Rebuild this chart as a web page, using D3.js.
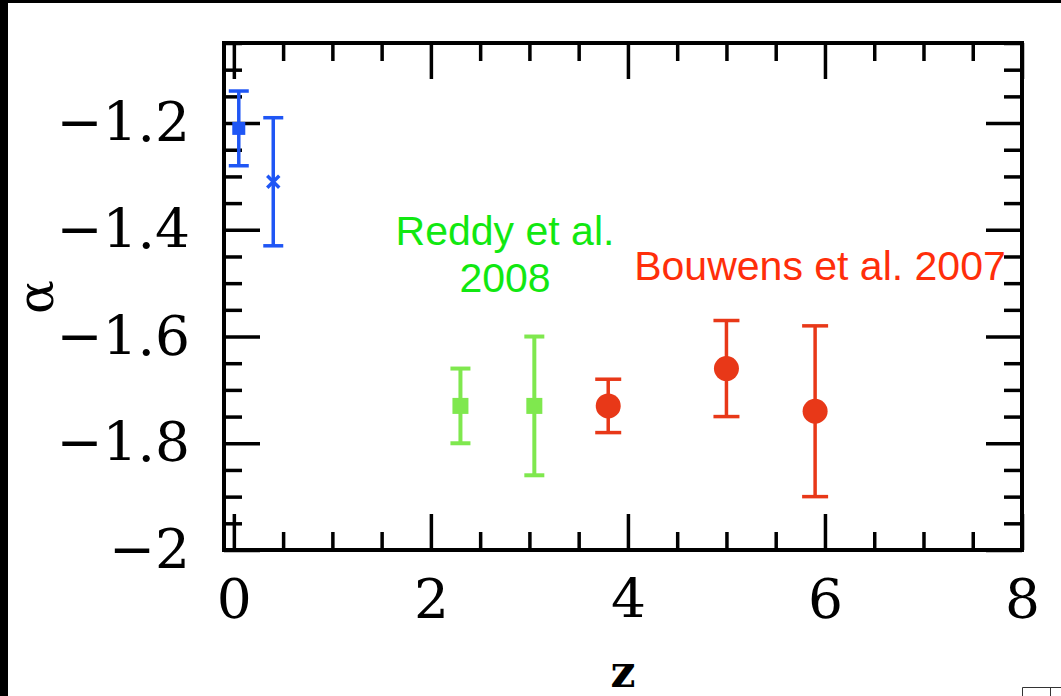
<!DOCTYPE html>
<html>
<head>
<meta charset="utf-8">
<script src="https://cdn.jsdelivr.net/npm/d3@7"></script>
<style>
  html, body { margin: 0; padding: 0; background: #fff; }
  svg { display: block; }
</style>
</head>
<body>
<svg id="chart" width="1061" height="696"></svg>
<script>
// Faint-end slope alpha of the UV luminosity function versus redshift z
const blueZ    = [0.05, 0.40];
const blueA    = [-1.21, -1.31];
const blueHi   = [-1.14, -1.19];
const blueLo   = [-1.28, -1.43];
const blueMark = ["square", "cross"];

const reddyZ   = [2.3, 3.05];
const reddyA   = [-1.73, -1.73];
const reddyHi  = [-1.66, -1.60];
const reddyLo  = [-1.80, -1.86];

const bouwZ    = [3.8, 5.0, 5.9];
const bouwA    = [-1.73, -1.66, -1.74];
const bouwHi   = [-1.68, -1.57, -1.58];
const bouwLo   = [-1.78, -1.75, -1.90];

const xMajor = [0, 2, 4, 6, 8];
const xTickLabels = ["0", "2", "4", "6", "8"];
const yMajor = [-2, -1.8, -1.6, -1.4, -1.2];
const yTickLabels = ["\u22122", "\u22121.8", "\u22121.6", "\u22121.4", "\u22121.2"];

const svg = d3.select("#chart");

const L = 224, R = 1022, T = 43, B = 550;
const x = d3.scaleLinear().domain([-0.1, 8]).range([L, R]);
const y = d3.scaleLinear().domain([-2, -1.05]).range([B, T]);

// dark page edges
svg.append("rect").attr("x", 0).attr("y", 0).attr("width", 1061).attr("height", 3).attr("fill", "#000");
svg.append("rect").attr("x", 0).attr("y", 0).attr("width", 8).attr("height", 696).attr("fill", "#000");

const xMinor = d3.range(0, 8.001, 0.5).filter(v => Math.abs(v % 2) > 1e-6);
const yMinor = d3.range(-2, -1.049, 0.05).map(v => +v.toFixed(2)).filter(v => !yMajor.some(m => Math.abs(m - v) < 1e-6));

const tickW = 3.5, majorLen = 36, minorLen = 18;
const serif = "'DejaVu Serif', 'Liberation Serif', serif";

function styleAxis(g) {
  g.select(".domain").remove();
  g.selectAll(".tick line").attr("stroke", "#000").attr("stroke-width", tickW);
}

// bottom axis with labels
const gxB = svg.append("g").attr("transform", `translate(0,${B})`)
  .call(d3.axisBottom(x).tickValues(xMajor).tickSizeInner(-majorLen).tickSizeOuter(0)
    .tickPadding(29).tickFormat((d, i) => xTickLabels[i]));
styleAxis(gxB);
gxB.selectAll("text").attr("font-family", serif).attr("font-size", 55).attr("fill", "#000");
svg.append("g").attr("transform", `translate(0,${B})`)
  .call(d3.axisBottom(x).tickValues(xMinor).tickSizeInner(-minorLen).tickSizeOuter(0).tickFormat(""))
  .call(styleAxis);

// top axis (ticks only)
svg.append("g").attr("transform", `translate(0,${T})`)
  .call(d3.axisTop(x).tickValues(xMajor).tickSizeInner(-majorLen).tickSizeOuter(0).tickFormat(""))
  .call(styleAxis);
svg.append("g").attr("transform", `translate(0,${T})`)
  .call(d3.axisTop(x).tickValues(xMinor).tickSizeInner(-minorLen).tickSizeOuter(0).tickFormat(""))
  .call(styleAxis);

// left axis with labels
const gyL = svg.append("g").attr("transform", `translate(${L},0)`)
  .call(d3.axisLeft(y).tickValues(yMajor).tickSizeInner(-majorLen).tickSizeOuter(0)
    .tickPadding(34).tickFormat((d, i) => yTickLabels[i]));
styleAxis(gyL);
gyL.selectAll("text").attr("font-family", serif).attr("font-size", 55).attr("fill", "#000");
svg.append("g").attr("transform", `translate(${L},0)`)
  .call(d3.axisLeft(y).tickValues(yMinor).tickSizeInner(-minorLen).tickSizeOuter(0).tickFormat(""))
  .call(styleAxis);

// right axis (ticks only)
svg.append("g").attr("transform", `translate(${R},0)`)
  .call(d3.axisRight(y).tickValues(yMajor).tickSizeInner(-majorLen).tickSizeOuter(0).tickFormat(""))
  .call(styleAxis);
svg.append("g").attr("transform", `translate(${R},0)`)
  .call(d3.axisRight(y).tickValues(yMinor).tickSizeInner(-minorLen).tickSizeOuter(0).tickFormat(""))
  .call(styleAxis);

// frame
svg.append("rect").attr("x", L).attr("y", T).attr("width", R - L).attr("height", B - T)
  .attr("fill", "none").attr("stroke", "#000").attr("stroke-width", 4);

// axis titles
svg.append("text").attr("x", 623).attr("y", 687).attr("text-anchor", "middle")
  .attr("font-family", serif).attr("font-weight", "bold").attr("font-size", 44).attr("fill", "#000").text("z");
svg.append("text").attr("transform", "translate(53,297) rotate(-90)").attr("text-anchor", "middle")
  .attr("font-family", serif).attr("font-size", 50).attr("fill", "#000").text("\u03b1");

// error bars
function errorBars(zs, lo, hi, color, capW, lw) {
  const g = svg.append("g").attr("stroke", color).attr("stroke-width", lw);
  zs.forEach((z, i) => {
    g.append("line").attr("x1", x(z)).attr("x2", x(z)).attr("y1", y(lo[i])).attr("y2", y(hi[i]));
    [lo[i], hi[i]].forEach(v => {
      g.append("line").attr("x1", x(z) - capW / 2).attr("x2", x(z) + capW / 2)
        .attr("y1", y(v)).attr("y2", y(v));
    });
  });
}

const blue = "#1f56f5", green = "#7fe84e", red = "#e83818";

errorBars(blueZ, blueLo, blueHi, blue, 20, 3.5);
errorBars(reddyZ, reddyLo, reddyHi, green, 20, 4);
errorBars(bouwZ, bouwLo, bouwHi, red, 26, 3.5);

// blue markers: a filled square and a cross
blueZ.forEach((z, i) => {
  const cx = x(z), cy = y(blueA[i]);
  if (blueMark[i] === "square") {
    svg.append("rect").attr("x", cx - 6.5).attr("y", cy - 6.5).attr("width", 13).attr("height", 13).attr("fill", blue);
  } else {
    const s = 6;
    svg.append("path").attr("d", `M${cx - s},${cy - s}L${cx + s},${cy + s}M${cx - s},${cy + s}L${cx + s},${cy - s}`)
      .attr("stroke", blue).attr("stroke-width", 3.5).attr("fill", "none");
  }
});

// Reddy et al. squares
svg.append("g").selectAll("rect").data(reddyZ).join("rect")
  .attr("x", d => x(d) - 8).attr("y", (d, i) => y(reddyA[i]) - 8)
  .attr("width", 16).attr("height", 16).attr("fill", green);

// Bouwens et al. circles
svg.append("g").selectAll("circle").data(bouwZ).join("circle")
  .attr("cx", d => x(d)).attr("cy", (d, i) => y(bouwA[i])).attr("r", 12.5).attr("fill", red);

// annotations
const sans = "'Liberation Sans', Arial, sans-serif";
const reddyText = svg.append("text").attr("font-family", sans).attr("font-size", 41)
  .attr("fill", "#11e811").attr("text-anchor", "middle");
reddyText.append("tspan").attr("x", 505).attr("y", 245).text("Reddy et al.");
reddyText.append("tspan").attr("x", 505).attr("y", 292).text("2008");
svg.append("text").attr("x", 820).attr("y", 280).attr("text-anchor", "middle")
  .attr("font-family", sans).attr("font-size", 41).attr("fill", "#ff2e0a").text("Bouwens et al. 2007");

// small box fragment at the lower right corner
svg.append("path").attr("d", "M1022.5,696V687.5H1061M1050.5,687.5V696")
  .attr("stroke", "#333").attr("stroke-width", 1).attr("fill", "none");
</script>
</body>
</html>
